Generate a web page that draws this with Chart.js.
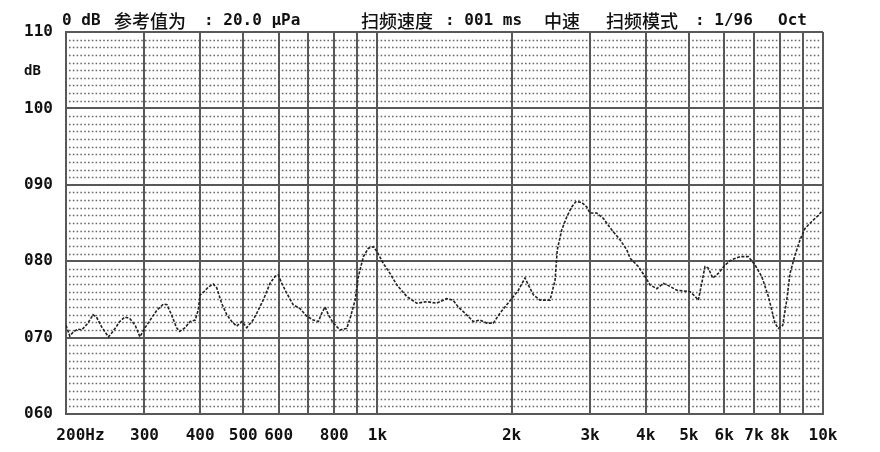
<!DOCTYPE html>
<html>
<head>
<meta charset="utf-8">
<script src="https://cdn.jsdelivr.net/npm/chart.js@4.4.1/dist/chart.umd.min.js"></script>
<style>
  html, body { margin: 0; padding: 0; background: #fff; }
  #wrap { width: 880px; height: 452px; }
</style>
</head>
<body>
<div id="wrap"><canvas id="chart" width="880" height="452"></canvas></div>
<script>
// frequency (Hz) / level (dB)
const freqs = [200, 204, 208, 213, 217, 224, 230, 234, 241, 249, 255, 264, 271, 278, 286, 293, 301, 309, 320, 331,
  337, 345, 354, 360, 370, 380, 390, 396, 400, 408, 417, 428, 436, 447, 459, 471, 483, 496, 509, 526,
  536, 554, 574, 589, 599, 610, 626, 647, 670, 694, 718, 737, 750, 763, 776, 796, 824, 853, 868, 891,
  906, 930, 954, 979, 999, 1031, 1067, 1105, 1163, 1225, 1290, 1358, 1430, 1478, 1519, 1572, 1641, 1699, 1759, 1820,
  1884, 1950, 2002, 2071, 2144, 2181, 2238, 2317, 2440, 2504, 2533, 2592, 2660, 2729, 2790, 2874, 2949, 3000, 3106, 3213,
  3356, 3503, 3627, 3689, 3851, 3986, 4091, 4235, 4382, 4536, 4696, 4859, 5030, 5161, 5250, 5343, 5435, 5529, 5656, 5822,
  6027, 6239, 6513, 6798, 7038, 7286, 7411, 7538, 7672, 7804, 7938, 8121, 8291, 8433, 8654, 8881, 9113, 9434, 9762, 10000];
const levels = [71.6, 70.2, 70.8, 71.1, 71.0, 71.9, 73.0, 72.7, 71.3, 70.1, 70.8, 72.1, 72.7, 72.5, 71.6, 70.1, 71.3, 72.3, 73.6, 74.4,
  74.3, 73.0, 71.3, 70.8, 71.3, 72.1, 72.3, 73.6, 75.6, 76.0, 76.6, 77.0, 76.5, 74.5, 73.0, 72.1, 71.5, 72.1, 71.3, 72.3,
  73.2, 74.9, 77.1, 78.0, 78.2, 77.1, 75.8, 74.3, 73.8, 72.8, 72.3, 72.1, 73.2, 74.0, 73.0, 71.9, 71.0, 71.2, 72.5, 74.9,
  78.0, 80.6, 81.7, 81.9, 81.2, 79.7, 78.4, 76.9, 75.4, 74.5, 74.7, 74.5, 75.1, 74.9, 74.0, 73.2, 72.1, 72.3, 71.9, 71.9,
  73.2, 74.3, 75.1, 76.2, 77.8, 76.9, 75.6, 74.9, 74.9, 77.5, 81.5, 84.1, 85.8, 87.1, 87.8, 87.7, 87.1, 86.3, 86.3, 85.6,
  84.1, 82.8, 81.5, 80.4, 79.3, 78.0, 76.9, 76.4, 77.1, 76.7, 76.2, 76.1, 76.0, 75.4, 74.9, 77.1, 79.3, 79.1, 77.8, 78.4,
  79.5, 80.2, 80.6, 80.6, 79.5, 78.0, 76.7, 75.4, 73.6, 71.9, 71.2, 71.6, 74.9, 78.4, 80.8, 82.8, 84.3, 85.2, 86.0, 86.7];

const xTicks = [200, 300, 400, 500, 600, 700, 800, 900, 1000, 2000, 3000, 4000, 5000, 6000, 7000, 8000, 9000, 10000];
const xTickLabels = {200: '   200Hz', 300: '300', 400: '400', 500: '500', 600: '600', 800: '800', 1000: '1k',
  2000: '2k', 3000: '3k', 4000: '4k', 5000: '5k', 6000: '6k', 7000: '7k', 8000: '8k', 10000: '10k'};
const yTicks = [60, 70, 80, 90, 100, 110];

const MONO = '"DejaVu Sans Mono", monospace';
const CJK = '"Noto Sans CJK SC", sans-serif';

// header text pieces: [text, x, isCJK]
const header = [
  ['0 dB', 62, false], ['参考值为', 114, true], [': 20.0 μPa', 204, false],
  ['扫频速度', 361, true], [': 001 ms', 445, false], ['中速', 544, true],
  ['扫频模式', 606, true], [': 1/96', 695, false], ['Oct', 778, false]
];

const minorGrid = {
  id: 'minorGrid',
  beforeDraw(chart) {
    const {ctx, chartArea} = chart;
    const y = chart.scales.y;
    ctx.save();
    ctx.strokeStyle = '#6a6a6a';
    ctx.lineWidth = 1.6;
    ctx.setLineDash([1.6, 2.2]);
    for (let v = 61; v < 110; v++) {
      if (v % 10 === 0) continue;
      const py = Math.round(y.getPixelForValue(v)) + 0.5;
      ctx.beginPath();
      ctx.moveTo(chartArea.left + 3, py);
      ctx.lineTo(chartArea.right - 3, py);
      ctx.stroke();
    }
    ctx.restore();
  },
  afterDraw(chart) {
    const ctx = chart.ctx;
    ctx.save();
    ctx.fillStyle = '#111';
    ctx.textBaseline = 'middle';
    header.forEach(([t, x, cjk]) => {
      ctx.font = cjk ? '500 18px ' + CJK : 'bold 16px ' + MONO;
      ctx.fillText(t, x, 21);
    });
    ctx.font = 'bold 14px ' + MONO;
    ctx.fillText('dB', 24, 71);
    ctx.restore();
  }
};

new Chart(document.getElementById('chart').getContext('2d'), {
  type: 'line',
  data: {
    datasets: [{
      data: freqs.map((f, i) => ({x: f, y: levels[i]})),
      borderColor: '#222',
      borderWidth: 1.6,
      borderDash: [3, 1.5],
      pointRadius: 0,
      tension: 0,
      fill: false
    }]
  },
  options: {
    responsive: false,
    animation: false,
    devicePixelRatio: 1,
    layout: { padding: { top: 32, right: 57, left: 0, bottom: 0 } },
    plugins: { legend: { display: false }, tooltip: { enabled: false } },
    scales: {
      x: {
        type: 'logarithmic',
        min: 200,
        max: 10000,
        afterBuildTicks: (scale) => { scale.ticks = xTicks.map(v => ({value: v})); },
        afterFit: (scale) => { scale.height = 38; },
        ticks: {
          autoSkip: false,
          maxRotation: 0,
          padding: 12,
          color: '#111',
          font: { family: MONO, size: 16, weight: 'bold' },
          callback: (v) => xTickLabels[v] || ''
        },
        grid: { color: '#585858', lineWidth: 2, drawTicks: false },
        border: { display: true, color: '#585858', width: 2 }
      },
      y: {
        type: 'linear',
        min: 60,
        max: 110,
        afterBuildTicks: (scale) => { scale.ticks = yTicks.map(v => ({value: v})); },
        afterFit: (scale) => { scale.width = 66; },
        ticks: {
          padding: 13,
          color: '#111',
          font: { family: MONO, size: 16, weight: 'bold' },
          callback: (v) => String(v).padStart(3, '0')
        },
        grid: { color: '#585858', lineWidth: 2, drawTicks: false },
        border: { display: true, color: '#585858', width: 2 }
      }
    }
  },
  plugins: [minorGrid]
});
</script>
</body>
</html>
